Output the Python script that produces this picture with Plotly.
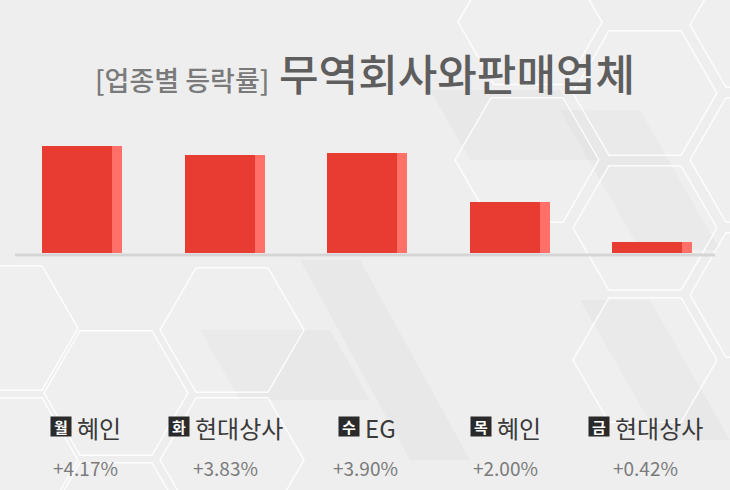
import plotly.graph_objects as go
import math

# ---- data ----
days = ["월", "화", "수", "목", "금"]
companies = ["혜인", "현대상사", "EG", "혜인", "현대상사"]
changes = [4.17, 3.83, 3.90, 2.00, 0.42]
title_prefix = "[업종별 등락률]"
title_main = "무역회사와판매업체"

W, H = 730, 490
FONT = "Noto Sans CJK KR"

x = list(range(len(changes)))

# geometry (pixels)
bar_step = 142.5      # px between bar centers
first_center = 82     # px of first bar center
px_per_unit = 25.6    # px per 1 %
base_px = 253         # y pixel of zero line
main_w, strip_w = 70, 10

fig = go.Figure()
fig.add_trace(go.Bar(
    x=x, y=changes, width=main_w / bar_step, offset=-(main_w + strip_w) / 2 / bar_step,
    marker=dict(color="#e83c32", line=dict(width=0)), hoverinfo="skip", showlegend=False))
fig.add_trace(go.Bar(
    x=x, y=changes, width=strip_w / bar_step, offset=((main_w + strip_w) / 2 - strip_w) / bar_step,
    marker=dict(color="#ff7068", line=dict(width=0)), hoverinfo="skip", showlegend=False))
# invisible trace to anchor label axis
fig.add_trace(go.Scatter(x=x, y=[0] * len(x), xaxis="x2", mode="markers",
                         marker=dict(opacity=0), hoverinfo="skip", showlegend=False))

x0 = -first_center / bar_step
xr = [x0, x0 + W / bar_step]
lab_step = 140
lx0 = -85 / lab_step
lxr = [lx0, lx0 + W / lab_step]
yr = [-(H - base_px) / px_per_unit, base_px / px_per_unit]

shapes = []
def hexagon(cx, cy, r):
    pts = []
    for k in range(6):
        a = math.radians(60 * k)
        pts.append(((cx + r * math.cos(a)) / W, 1 - (cy + r * math.sin(a)) / H))
    return "M " + " L ".join(f"{px:.4f} {py:.4f}" for px, py in pts) + " Z"

# faint diagonal bands (decorative background)
bands = [
    [(300, 260), (360, 260), (470, 460), (410, 460)],
    [(560, 110), (640, 110), (720, 250), (640, 250)],
    [(580, 300), (650, 300), (730, 440), (660, 440)],
    [(200, 330), (330, 330), (370, 400), (240, 400)],
    [(430, 90), (560, 90), (600, 160), (470, 160)],
]
for poly in bands:
    p = "M " + " L ".join(f"{a / W:.4f} {1 - b / H:.4f}" for a, b in poly) + " Z"
    shapes.append(dict(type="path", path=p, xref="paper", yref="paper",
                       line=dict(width=0), fillcolor="rgba(180,180,180,0.09)", layer="below"))
# background hexagons (decorative)
hexes = [(645, 93), (527, 160), (645, 228), (530, 22), (762, 160), (762, 25), (762, 295),
         (645, 360), (6, 328), (116, 393), (232, 460), (6, 460), (116, 525), (232, 330)]
for cx, cy in hexes:
    shapes.append(dict(type="path", path=hexagon(cx, cy, 72), xref="paper", yref="paper",
                       line=dict(color="rgba(255,255,255,0.85)", width=1.5),
                       fillcolor="rgba(255,255,255,0.10)", layer="below"))
# baseline
shapes.append(dict(type="line", xref="paper", yref="paper", x0=15 / W, x1=715 / W,
                   y0=1 - 255 / H, y1=1 - 255 / H, line=dict(color="#d5d5d5", width=3)))

annotations = []
annotations.append(dict(
    x=0.5, y=1 - 72 / H, xref="paper", yref="paper", showarrow=False,
    xanchor="center", yanchor="middle",
    text=f"<span style='font-size:27px;color:#7a7a7a'>{title_prefix}</span> {title_main}",
    font=dict(family=FONT, size=43, color="#5e5e5e", weight=500)))

NAME_SIZE = 24
def text_w(s):
    return sum(0.92 * NAME_SIZE if ord(c) > 0x1100 else 0.6 * NAME_SIZE for c in s)

BADGE_W, GAP = 20, 6
for i, (d, c, v) in enumerate(zip(days, companies, changes)):
    gw = BADGE_W + GAP + text_w(c)
    annotations.append(dict(
        x=i, y=1 - 426 / H, xref="x2", yref="paper", showarrow=False,
        xanchor="left", yanchor="middle", xshift=-gw / 2, width=BADGE_W, height=19,
        bgcolor="#2a2a2a", borderpad=0, text=f"<b>{d}</b>", align="center", valign="middle",
        font=dict(family=FONT, size=15, color="#ffffff")))
    annotations.append(dict(
        x=i, y=1 - 427 / H, xref="x2", yref="paper", showarrow=False,
        xanchor="left", yanchor="middle", xshift=-gw / 2 + BADGE_W + GAP - 1, text=c,
        font=dict(family=FONT, size=NAME_SIZE, color="#3a3a3a")))
    annotations.append(dict(
        x=i, y=1 - 467 / H, xref="x2", yref="paper", showarrow=False,
        xanchor="center", yanchor="middle", text=f"+{v:.2f}%",
        font=dict(family=FONT, size=19, color="#7b7b7b")))

fig.update_layout(
    width=W, height=H, margin=dict(l=0, r=0, t=0, b=0, pad=0),
    paper_bgcolor="#eeeeee", plot_bgcolor="rgba(0,0,0,0)",
    barmode="overlay", bargap=0,
    xaxis=dict(range=xr, visible=False, fixedrange=True),
    xaxis2=dict(range=lxr, visible=False, overlaying="x", fixedrange=True),
    yaxis=dict(range=yr, visible=False, fixedrange=True),
    shapes=shapes, annotations=annotations,
    font=dict(family=FONT),
)

fig.write_html("out.html", config={"displayModeBar": False, "staticPlot": True},
               post_script="document.body.style.margin='0';")
